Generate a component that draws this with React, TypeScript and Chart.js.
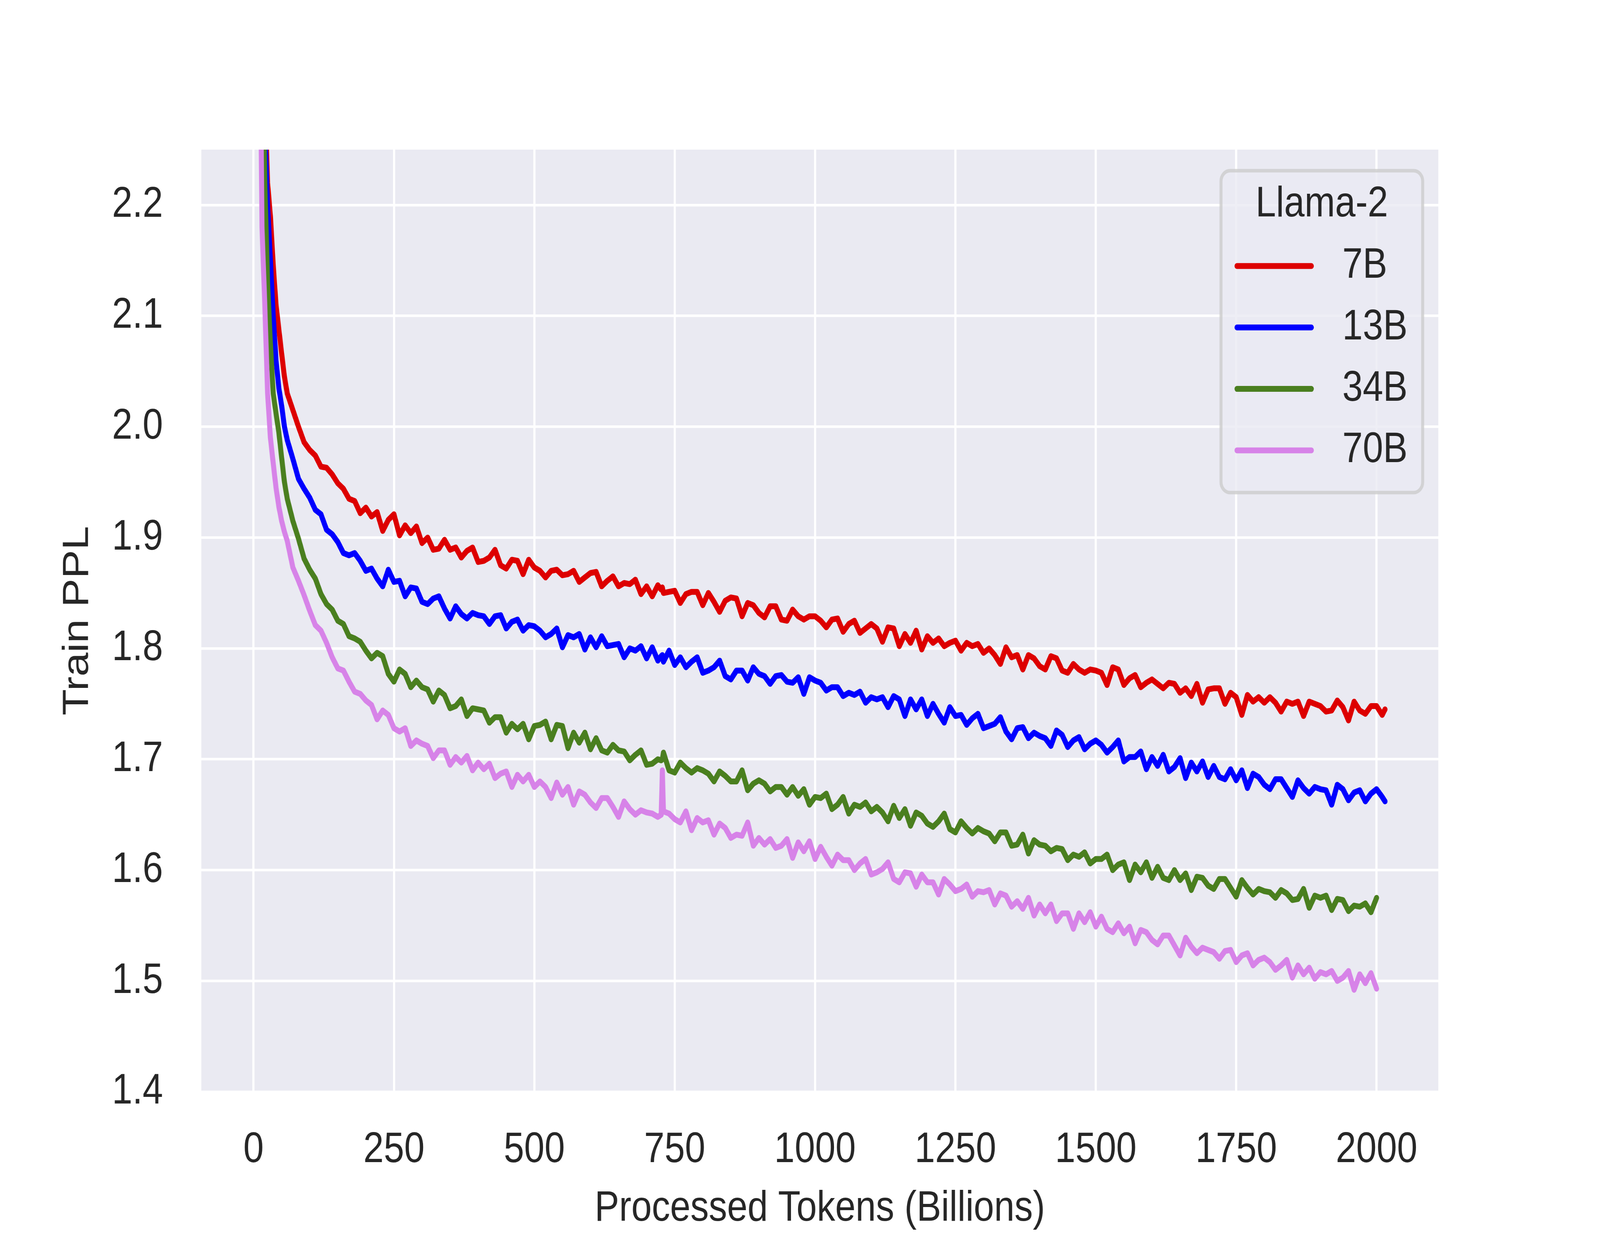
import React, { useEffect, useRef } from 'react';
import { Chart, registerables } from 'chart.js';

Chart.register(...registerables);

const FONT = "'Liberation Sans', Arial, sans-serif";
const TEXT = '#262626';
const PAGE_W = 4800;
const PAGE_H = 3200;

const legendTitle = 'Llama-2';
const seriesNames = ['7B', '13B', '34B', '70B'];
const seriesColors = ['#dd0000', '#0000ff', '#4a7f1f', '#d783e8'];
const xTicks = [0, 250, 500, 750, 1000, 1250, 1500, 1750, 2000];
const yTicks = [1.4, 1.5, 1.6, 1.7, 1.8, 1.9, 2.0, 2.1, 2.2];

// processed tokens (billions)
const tokens = [
  10, 15, 20, 25, 30, 35, 40, 45, 50, 55, 60, 70, 80, 90, 100,
  110, 120, 130, 140, 150, 160, 170, 180, 190, 200,
  210, 220, 230, 240, 250, 260, 270, 280, 290, 300,
  310, 320, 330, 340, 350, 360, 370, 380, 390, 400,
  410, 420, 430, 440, 450, 460, 470, 480, 490, 500,
  510, 520, 530, 540, 550, 560, 570, 580, 590, 600,
  610, 620, 630, 640, 650, 660, 670, 680, 690, 700,
  710, 720, 726, 728, 730, 740, 750, 760, 770, 780, 790, 800,
  810, 820, 830, 840, 850, 860, 870, 880, 890, 900,
  910, 920, 930, 940, 950, 960, 970, 980, 990, 1000,
  1010, 1020, 1030, 1040, 1050, 1060, 1070, 1080, 1090, 1100,
  1110, 1120, 1130, 1140, 1150, 1160, 1170, 1180, 1190, 1200,
  1210, 1220, 1230, 1240, 1250, 1260, 1270, 1280, 1290, 1300,
  1310, 1320, 1330, 1340, 1350, 1360, 1370, 1380, 1390, 1400,
  1410, 1420, 1430, 1440, 1450, 1460, 1470, 1480, 1490, 1500,
  1510, 1520, 1530, 1540, 1550, 1560, 1570, 1580, 1590, 1600,
  1610, 1620, 1630, 1640, 1650, 1660, 1670, 1680, 1690, 1700,
  1710, 1720, 1730, 1740, 1750, 1760, 1770, 1780, 1790, 1800,
  1810, 1820, 1830, 1840, 1850, 1860, 1870, 1880, 1890, 1900,
  1910, 1920, 1930, 1940, 1950, 1960, 1970, 1980, 1990, 2000,
  2010, 2015,
];

const ppl7b = [
  2.9, 2.52, 2.3, 2.22, 2.19, 2.146, 2.11, 2.088, 2.066, 2.045, 2.03, 2.015, 2.0, 1.986, 1.979,
  1.974, 1.964, 1.963, 1.957, 1.949, 1.944, 1.935, 1.933, 1.922, 1.927,
  1.919, 1.923, 1.906, 1.916, 1.921, 1.902, 1.911, 1.904, 1.91, 1.895,
  1.9, 1.889, 1.89, 1.898, 1.889, 1.891, 1.882, 1.888, 1.891, 1.878,
  1.879, 1.882, 1.889, 1.875, 1.872, 1.88, 1.879, 1.867, 1.88, 1.873,
  1.87, 1.864, 1.87, 1.871, 1.866, 1.867, 1.87, 1.86, 1.864, 1.868,
  1.869, 1.856, 1.861, 1.865, 1.856, 1.859, 1.858, 1.862, 1.849, 1.856,
  1.847, 1.857, 1.853, 1.855, 1.85, 1.851, 1.852, 1.841, 1.849, 1.851, 1.851, 1.839,
  1.85, 1.842, 1.833, 1.843, 1.846, 1.845, 1.829, 1.841, 1.839, 1.832,
  1.828, 1.838, 1.838, 1.826, 1.825, 1.835, 1.829, 1.826, 1.829, 1.829,
  1.825, 1.819, 1.826, 1.827, 1.815, 1.822, 1.825, 1.814, 1.818, 1.822,
  1.818, 1.806, 1.819, 1.818, 1.802, 1.813, 1.805, 1.816, 1.799, 1.811,
  1.805, 1.809, 1.802, 1.805, 1.807, 1.798, 1.805, 1.802, 1.804, 1.796,
  1.8, 1.794, 1.786, 1.801, 1.792, 1.794, 1.781, 1.794, 1.791, 1.784,
  1.781, 1.793, 1.791, 1.78, 1.778, 1.786, 1.781, 1.778, 1.781, 1.78,
  1.778, 1.767, 1.783, 1.781, 1.767, 1.773, 1.776, 1.765, 1.769, 1.772,
  1.768, 1.764, 1.769, 1.768, 1.76, 1.764, 1.757, 1.768, 1.751, 1.763,
  1.764, 1.764, 1.75, 1.76, 1.756, 1.74, 1.758, 1.752, 1.756, 1.751,
  1.756, 1.751, 1.743, 1.752, 1.75, 1.752, 1.739, 1.752, 1.75, 1.748,
  1.743, 1.744, 1.753, 1.747, 1.735, 1.752, 1.744, 1.741, 1.748, 1.748,
  1.74, 1.745,
];

const ppl13b = [
  2.85, 2.45, 2.27, 2.2, 2.15, 2.1, 2.06, 2.035, 2.019, 2.0, 1.988, 1.971, 1.953, 1.944, 1.936,
  1.925, 1.921, 1.907, 1.903, 1.896, 1.886, 1.884, 1.886, 1.879, 1.87,
  1.872, 1.863, 1.856, 1.871, 1.86, 1.861, 1.847, 1.855, 1.854, 1.842,
  1.84, 1.845, 1.847, 1.836, 1.827, 1.838, 1.831, 1.827, 1.832, 1.83,
  1.829, 1.822, 1.829, 1.83, 1.818, 1.824, 1.826, 1.816, 1.821, 1.82,
  1.816, 1.81, 1.813, 1.818, 1.801, 1.812, 1.81, 1.813, 1.799, 1.81,
  1.801, 1.811, 1.802, 1.803, 1.804, 1.792, 1.8, 1.798, 1.802, 1.791,
  1.801, 1.789, 1.793, 1.794, 1.788, 1.798, 1.785, 1.792, 1.783, 1.788, 1.792, 1.778,
  1.78, 1.783, 1.789, 1.775, 1.772, 1.78, 1.78, 1.771, 1.783, 1.777,
  1.775, 1.768, 1.775, 1.776, 1.77, 1.769, 1.774, 1.759, 1.774, 1.771,
  1.769, 1.762, 1.765, 1.765, 1.757, 1.76, 1.758, 1.761, 1.751, 1.756,
  1.754, 1.756, 1.747, 1.757, 1.754, 1.739, 1.754, 1.745, 1.754, 1.739,
  1.75, 1.741, 1.733, 1.747, 1.739, 1.74, 1.731, 1.737, 1.741, 1.728,
  1.73, 1.732, 1.738, 1.725, 1.718, 1.728, 1.729, 1.719, 1.724, 1.721,
  1.719, 1.712, 1.726, 1.722, 1.711, 1.717, 1.72, 1.709, 1.714, 1.717,
  1.713, 1.706, 1.711, 1.717, 1.698, 1.702, 1.702, 1.707, 1.691, 1.702,
  1.694, 1.704, 1.689, 1.693, 1.701, 1.683, 1.697, 1.689, 1.698, 1.684,
  1.694, 1.684, 1.682, 1.691, 1.681, 1.69, 1.674, 1.687, 1.684, 1.677,
  1.673, 1.682, 1.682, 1.674, 1.666, 1.681, 1.674, 1.669, 1.675, 1.673,
  1.672, 1.659, 1.677, 1.673, 1.663, 1.67, 1.672, 1.662, 1.669, 1.673,
  1.666, 1.662,
];

const ppl34b = [
  2.8, 2.38, 2.22, 2.13, 2.075, 2.03, 2.012, 1.995, 1.972, 1.95, 1.935, 1.915, 1.899, 1.881, 1.871,
  1.863, 1.849, 1.84, 1.835, 1.825, 1.822, 1.811, 1.809, 1.806, 1.798,
  1.791, 1.796, 1.793, 1.777, 1.77, 1.781, 1.777, 1.765, 1.771, 1.765,
  1.763, 1.752, 1.762, 1.758, 1.746, 1.748, 1.754, 1.739, 1.746, 1.745,
  1.744, 1.733, 1.738, 1.738, 1.724, 1.732, 1.727, 1.732, 1.718, 1.73,
  1.731, 1.734, 1.718, 1.731, 1.73, 1.71, 1.724, 1.715, 1.724, 1.709,
  1.719, 1.708, 1.706, 1.713, 1.708, 1.707, 1.699, 1.704, 1.708, 1.695,
  1.696, 1.7, 1.699, 1.7, 1.706, 1.69, 1.688, 1.697, 1.692, 1.688, 1.692, 1.69,
  1.687, 1.68, 1.689, 1.685, 1.68, 1.68, 1.69, 1.672, 1.678, 1.681,
  1.678, 1.671, 1.675, 1.675, 1.668, 1.675, 1.667, 1.673, 1.659, 1.666,
  1.665, 1.669, 1.655, 1.659, 1.666, 1.651, 1.659, 1.657, 1.661, 1.653,
  1.657, 1.652, 1.644, 1.658, 1.647, 1.655, 1.64, 1.652, 1.649, 1.642,
  1.639, 1.644, 1.651, 1.637, 1.634, 1.644, 1.638, 1.633, 1.638, 1.635,
  1.633, 1.626, 1.634, 1.634, 1.622, 1.623, 1.632, 1.615, 1.627, 1.623,
  1.622, 1.617, 1.62, 1.619, 1.609, 1.614, 1.612, 1.616, 1.606, 1.61,
  1.61, 1.614, 1.6, 1.605, 1.607, 1.591, 1.605, 1.598, 1.607, 1.593,
  1.603, 1.593, 1.591, 1.6, 1.591, 1.597, 1.582, 1.594, 1.593, 1.586,
  1.583, 1.592, 1.592, 1.584, 1.576, 1.591, 1.584, 1.578, 1.583, 1.581,
  1.58, 1.575, 1.582, 1.579, 1.573, 1.574, 1.583, 1.566, 1.577, 1.575,
  1.577, 1.564, 1.574, 1.573, 1.563, 1.568, 1.567, 1.57, 1.562, 1.575,
  null, null,
];

const ppl70b = [
  2.45, 2.18, 2.11, 2.03, 1.99, 1.967, 1.945, 1.928, 1.915, 1.905, 1.897, 1.873, 1.861, 1.848, 1.834,
  1.821, 1.816, 1.805, 1.792, 1.782, 1.78, 1.77, 1.761, 1.759, 1.753,
  1.749, 1.736, 1.744, 1.74, 1.728, 1.725, 1.728, 1.712, 1.717, 1.714,
  1.712, 1.701, 1.708, 1.708, 1.695, 1.702, 1.697, 1.703, 1.69, 1.697,
  1.691, 1.696, 1.683, 1.687, 1.689, 1.675, 1.686, 1.68, 1.686, 1.675,
  1.68, 1.675, 1.665, 1.679, 1.668, 1.675, 1.659, 1.671, 1.668, 1.661,
  1.656, 1.665, 1.665, 1.657, 1.648, 1.662, 1.655, 1.65, 1.654, 1.652,
  1.651, 1.648, 1.65, 1.69, 1.653, 1.651, 1.646, 1.643, 1.653, 1.636, 1.647, 1.643,
  1.645, 1.632, 1.642, 1.638, 1.629, 1.632, 1.631, 1.643, 1.622, 1.629,
  1.623, 1.628, 1.62, 1.622, 1.628, 1.611, 1.625, 1.617, 1.626, 1.61,
  1.621, 1.612, 1.604, 1.614, 1.609, 1.609, 1.6, 1.606, 1.61, 1.596,
  1.598, 1.601, 1.607, 1.592, 1.589, 1.598, 1.597, 1.585, 1.596, 1.589,
  1.589, 1.578, 1.592, 1.587, 1.581, 1.583, 1.587, 1.576, 1.581, 1.58,
  1.582, 1.569, 1.579, 1.577, 1.567, 1.572, 1.565, 1.575, 1.559, 1.569,
  1.561, 1.569, 1.554, 1.561, 1.561, 1.547, 1.561, 1.553, 1.562, 1.549,
  1.558, 1.547, 1.544, 1.552, 1.543, 1.549, 1.534, 1.546, 1.544, 1.537,
  1.533, 1.541, 1.541, 1.532, 1.523, 1.539, 1.531, 1.525, 1.53, 1.528,
  1.526, 1.52, 1.527, 1.528, 1.517, 1.523, 1.525, 1.514, 1.519, 1.521,
  1.517, 1.51, 1.514, 1.519, 1.503, 1.514, 1.506, 1.512, 1.502, 1.508,
  1.506, 1.509, 1.5, 1.503, 1.509, 1.492, 1.506, 1.498, 1.507, 1.493,
  null, null,
];

const seriesValues = [ppl7b, ppl13b, ppl34b, ppl70b];

// seaborn darkgrid panel behind the grid
const backgroundPlugin = {
  id: 'darkgridBackground',
  beforeDraw(chart: Chart) {
    const { ctx, chartArea: a } = chart;
    ctx.save();
    ctx.fillStyle = '#ffffff';
    ctx.fillRect(0, 0, chart.width, chart.height);
    ctx.fillStyle = '#eaeaf2';
    ctx.fillRect(a.left, a.top, a.right - a.left, a.bottom - a.top);
    ctx.restore();
  },
};

// matplotlib-style legend box with a title
const legendPlugin = {
  id: 'boxLegend',
  afterDraw(chart: Chart) {
    const ctx = chart.ctx;
    const left = 3663;
    const top = 437;
    const w = 605;
    const h = 824;
    ctx.save();
    ctx.beginPath();
    ctx.roundRect(left, top, w, h, 27);
    ctx.fillStyle = 'rgba(234, 234, 242, 0.8)';
    ctx.fill();
    ctx.lineWidth = 9;
    ctx.strokeStyle = 'rgba(204, 204, 204, 0.8)';
    ctx.stroke();

    ctx.fillStyle = TEXT;
    ctx.font = `110px ${FONT}`;
    ctx.textBaseline = 'middle';
    ctx.textAlign = 'center';
    ctx.fillText(legendTitle, left + w / 2, 524);

    seriesNames.forEach((name, i) => {
      const y = 681 + i * 157.3;
      ctx.beginPath();
      ctx.moveTo(3711, y);
      ctx.lineTo(3934, y);
      ctx.strokeStyle = seriesColors[i];
      ctx.lineWidth = 15;
      ctx.lineCap = 'round';
      ctx.stroke();
      ctx.fillStyle = TEXT;
      ctx.textAlign = 'left';
      ctx.fillText(name, 4027, y);
    });
    ctx.restore();
  },
};

const TrainPplChart: React.FC = () => {
  const chartRef = useRef<HTMLCanvasElement>(null);
  const chartInstance = useRef<Chart | null>(null);

  // the browser window can be narrower than the 4800x3200 figure: draw at full size, then fit it
  const vw = window.innerWidth;
  const vh = window.innerHeight;
  const sx = vw / PAGE_W;
  const sy = vh / PAGE_H;

  useEffect(() => {
    if (!chartRef.current) return;
    if (chartInstance.current) chartInstance.current.destroy();

    const tickFont = { family: FONT, size: 110 };

    chartInstance.current = new Chart(chartRef.current, {
      type: 'line',
      data: {
        datasets: seriesNames.map((name, i) => ({
          label: name,
          data: tokens
            .map((x, j) => ({ x, y: seriesValues[i][j] }))
            .filter((p) => p.y !== null),
          borderColor: seriesColors[i],
          backgroundColor: seriesColors[i],
          borderWidth: 15,
          pointRadius: 0,
          tension: 0,
          borderJoinStyle: 'round',
          borderCapStyle: 'round',
          clip: 0,
          order: seriesNames.length - 1 - i,
        })),
      },
      options: {
        responsive: true,
        maintainAspectRatio: false,
        devicePixelRatio: 1,
        animation: false,
        layout: { padding: { top: 383, right: 485, left: 0, bottom: 0 } },
        plugins: {
          legend: { display: false },
          tooltip: { enabled: false },
        },
        scales: {
          x: {
            type: 'linear',
            min: -93,
            max: 2110,
            afterBuildTicks: (s) => {
              s.ticks = xTicks.map((v) => ({ value: v }));
            },
            afterFit: (s) => {
              s.height = 405;
            },
            ticks: {
              font: tickFont,
              color: TEXT,
              padding: 84,
              maxRotation: 0,
              autoSkip: false,
              callback: (v) => String(v),
            },
            grid: { color: '#ffffff', lineWidth: 6.5, drawTicks: false },
            border: { display: false },
            title: {
              display: true,
              text: 'Processed Tokens (Billions)',
              font: tickFont,
              color: TEXT,
              padding: { top: 0, bottom: 39 },
            },
          },
          y: {
            type: 'linear',
            min: 1.4,
            max: 2.25,
            afterBuildTicks: (s) => {
              s.ticks = yTicks.map((v) => ({ value: v }));
            },
            afterFit: (s) => {
              s.width = 604;
            },
            ticks: {
              font: tickFont,
              color: TEXT,
              padding: 115,
              autoSkip: false,
              callback: (v) => Number(v).toFixed(1),
            },
            grid: { color: '#ffffff', lineWidth: 6.5, drawTicks: false },
            border: { display: false },
            title: {
              display: true,
              text: 'Train PPL',
              font: tickFont,
              color: TEXT,
              padding: { top: 168, bottom: 0 },
            },
          },
        },
      },
      plugins: [backgroundPlugin, legendPlugin],
    });

    return () => {
      if (chartInstance.current) {
        chartInstance.current.destroy();
        chartInstance.current = null;
      }
    };
  }, []);

  return (
    <div style={{ position: 'absolute', left: 0, top: 0, width: vw, height: vh, overflow: 'hidden', background: '#ffffff' }}>
      <div
        style={{
          position: 'absolute',
          left: 0,
          top: 0,
          width: PAGE_W,
          height: PAGE_H,
          transform: `scale(${sx}, ${sy})`,
          transformOrigin: '0 0',
        }}
      >
        <canvas ref={chartRef}></canvas>
      </div>
    </div>
  );
};

export default function App() {
  return <TrainPplChart />;
}
